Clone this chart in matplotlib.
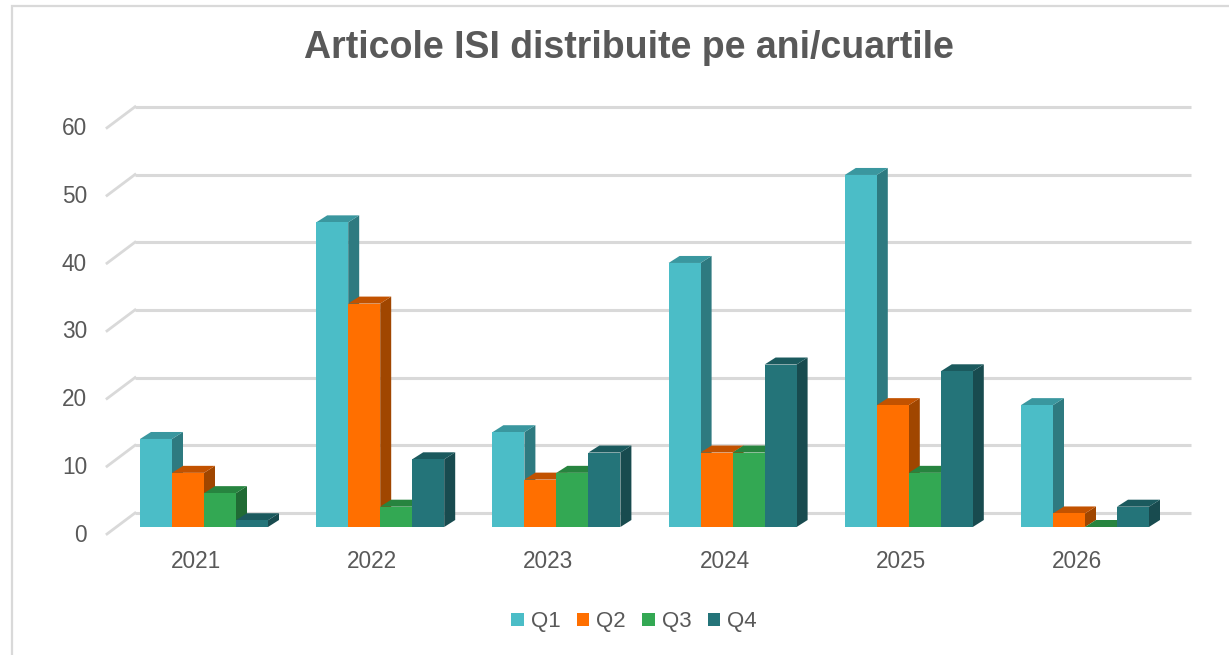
import matplotlib
matplotlib.use("Agg")
import matplotlib.pyplot as plt
from matplotlib.patches import Polygon, Patch, Rectangle

# ---- data ----
years = ["2021", "2022", "2023", "2024", "2025", "2026"]
series_names = ["Q1", "Q2", "Q3", "Q4"]
q1 = [13, 45, 14, 39, 52, 18]
q2 = [8, 33, 7, 11, 18, 2]
q3 = [5, 3, 8, 11, 8, 0]
q4 = [1, 10, 11, 24, 23, 3]
y_ticks = [0, 10, 20, 30, 40, 50, 60]
title = "Articole ISI distribuite pe ani/cuartile"

# ---- styles ----
front_colors = ["#4BBDC7", "#FF6F00", "#33A853", "#247479"]
top_colors = ["#3A979F", "#C25200", "#27843F", "#1B5A5E"]
side_colors = ["#2E7A80", "#A04600", "#206B34", "#184B4F"]
text_color = "#595959"
grid_color = "#D9D9D9"

W, H = 1229, 655
fig = plt.figure(figsize=(W / 100, H / 100), dpi=100)
ax = fig.add_axes([0, 0, 1, 1])
ax.set_axis_off()

# pixel geometry -> data units
px_per_cat = 176.2
px_per_val = 6.77
x0_px = 204.0     # pixel x of first group centre (bar fronts)
y0_px = 527.0     # pixel y (from top) of value 0 at bar fronts
ax.set_xlim(-x0_px / px_per_cat, (W - x0_px) / px_per_cat)
ax.set_ylim((y0_px - H) / px_per_val, y0_px / px_per_val)

def dx(px):
    return px / px_per_cat

def dv(px_up):
    return px_up / px_per_val

# walls / gridlines
back_left = dx(135 - x0_px)
back_right = dx(1191 - x0_px)
front_left = dx(107 - x0_px)
back_up = dv(14)
front_down = dv(-7)
for t in y_ticks:
    ax.plot([back_left, back_right], [t + back_up, t + back_up],
            color=grid_color, lw=2.2, solid_capstyle="butt", zorder=1)
    ax.plot([front_left, back_left], [t + front_down, t + back_up],
            color=grid_color, lw=2.0, zorder=1)
    ax.text(dx(87 - x0_px), t + front_down - dv(1), str(t), ha="right", va="center",
            fontsize=16.3, color=text_color, family="Liberation Sans")

# bars
bar_w = dx(32)
ddx = dx(11)
ddv = dv(7)
all_series = [q1, q2, q3, q4]
z = 2
for gi in range(len(years)):
    for si, vals in enumerate(all_series):
        v = vals[gi]
        xc = gi + (si - 1.5) * bar_w
        xl, xr = xc - bar_w / 2, xc + bar_w / 2
        side = Polygon([(xr, 0), (xr + ddx, ddv), (xr + ddx, v + ddv), (xr, v)],
                       closed=True, facecolor=side_colors[si], edgecolor="none", zorder=z)
        ax.add_patch(side)
        top = Polygon([(xl, v), (xl + ddx, v + ddv), (xr + ddx, v + ddv), (xr, v)],
                      closed=True, facecolor=top_colors[si], edgecolor="none", zorder=z)
        ax.add_patch(top)
        ax.bar(xc, v, width=bar_w, color=front_colors[si], edgecolor="none",
               zorder=z + 0.5)
        z += 1

# category labels
for gi, yr in enumerate(years):
    ax.text(gi - dx(8), dv(-35), yr, ha="center", va="center", fontsize=16.3,
            color=text_color, family="Liberation Sans")

# title
fig.text(629 / W, 1 - 48 / H, title, ha="center", va="center", fontsize=27,
         fontweight="bold", color=text_color, family="Liberation Sans")

# legend
handles = [Patch(facecolor=c, edgecolor="none") for c in front_colors]
leg = fig.legend(handles, series_names, loc="center", bbox_to_anchor=(634 / W, 1 - 622 / H),
                 ncol=4, frameon=False, handlelength=0.56, handleheight=0.56,
                 handletextpad=0.3, columnspacing=0.75,
                 prop={"family": "Liberation Sans", "size": 16})
for t in leg.get_texts():
    t.set_color(text_color)

# chart border
fig.patches.append(Rectangle((12 / W, -0.1), 1.2, 1 - 6 / H + 0.1, transform=fig.transFigure,
                             fill=False, edgecolor=grid_color, lw=1.6, zorder=0))

fig.savefig("out.png", dpi=100, facecolor="white")
